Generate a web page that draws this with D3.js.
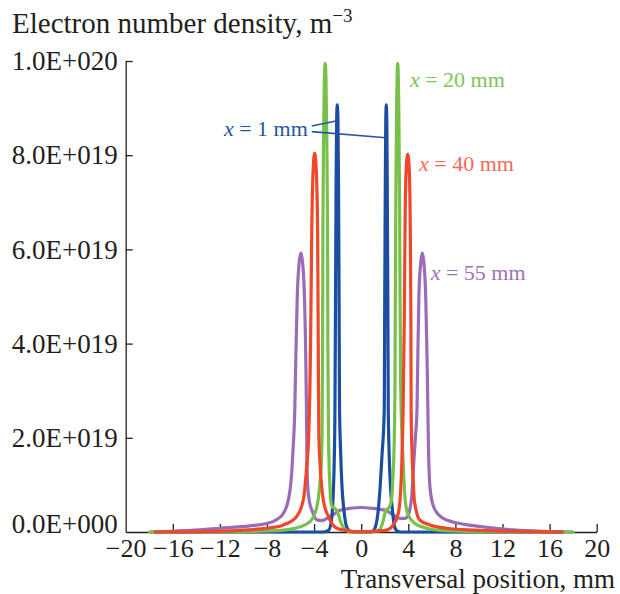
<!DOCTYPE html>
<html>
<head>
<meta charset="utf-8">
<script src="https://cdn.jsdelivr.net/npm/d3@7"></script>
<style>
  html, body { margin: 0; padding: 0; background: #fff; }
  svg { display: block; font-family: "Liberation Serif", "Times New Roman", serif; }
</style>
</head>
<body>
<svg id="chart" width="620" height="594"></svg>
<script>
// Transversal electron density profiles: [position (mm), density (1e19 m^-3)]
const profile1mm = [
  [-17.5, 0], [-3.2, 0], [-2.75, 0.04], [-2.5, 0.3], [-2.38, 0.8], [-2.3, 1.4], [-2.23, 2.6],
  [-2.18, 5.0], [-2.13, 7.5], [-2.08, 8.8], [-2.03, 9.07], [-1.98, 8.8], [-1.93, 7.5], [-1.88, 5.0],
  [-1.84, 2.6], [-1.76, 1.8], [-1.64, 1.0], [-1.46, 0.45], [-1.25, 0.12], [-1.0, 0.02], [-0.7, 0],
  [0.7, 0], [1.0, 0.02], [1.2, 0.1], [1.45, 0.47], [1.62, 1.0], [1.76, 1.6], [1.96, 2.6],
  [2.0, 5.0], [2.05, 7.5], [2.09, 8.8], [2.13, 9.07], [2.17, 8.8], [2.21, 7.5], [2.26, 5.0],
  [2.3, 2.6], [2.37, 1.7], [2.48, 1.0], [2.65, 0.47], [2.8, 0.15], [3.0, 0.03], [3.3, 0], [17, 0]
];
const profile20mm = [
  [-18, 0], [-10, 0.01], [-6.6, 0.04], [-5.2, 0.11], [-4.35, 0.22], [-3.92, 0.40], [-3.66, 0.68],
  [-3.48, 1.1], [-3.4, 1.39], [-3.32, 2.1], [-3.28, 4.0], [-3.25, 6.5], [-3.19, 8.5], [-3.13, 9.6],
  [-3.06, 9.95], [-2.99, 9.6], [-2.93, 8.5], [-2.86, 6.5], [-2.83, 4.0], [-2.78, 2.1], [-2.67, 1.03],
  [-2.55, 0.6], [-2.4, 0.52], [-2.23, 0.5], [-2.1, 0.46], [-1.95, 0.38], [-1.75, 0.22], [-1.52, 0.1],
  [-1.23, 0.03], [-0.9, 0], [0.9, 0], [1.3, 0.02], [1.6, 0.06], [1.85, 0.22], [2.02, 0.40],
  [2.15, 0.48], [2.3, 0.50], [2.45, 0.56], [2.59, 0.72], [2.7, 1.2], [2.8, 1.9], [2.87, 3.2],
  [2.9, 5.0], [2.94, 7.0], [3.0, 8.8], [3.1, 9.95], [3.2, 8.8], [3.26, 7.0], [3.3, 5.0],
  [3.35, 3.2], [3.47, 2.0], [3.58, 1.39], [3.72, 0.72], [3.85, 0.48], [4.0, 0.36], [4.57, 0.18],
  [5.56, 0.08], [6.97, 0.03], [10, 0.01], [18, 0]
];
const profile40mm = [
  [-17.5, 0], [-12, 0.02], [-8.03, 0.08], [-6.6, 0.15], [-5.48, 0.33], [-4.92, 0.68], [-4.63, 1.39],
  [-4.45, 2.1], [-4.3, 4.0], [-4.2, 6.4], [-4.08, 7.7], [-3.95, 8.04], [-3.82, 7.7], [-3.7, 6.4],
  [-3.65, 4.0], [-3.6, 2.1], [-3.48, 1.39], [-3.22, 0.68], [-2.79, 0.33], [-2.08, 0.08], [-1.23, 0.03],
  [-0.5, 0.01], [0.5, 0.01], [1.5, 0.02], [2.17, 0.04], [2.73, 0.15], [3.15, 0.40], [3.3, 0.68],
  [3.44, 1.39], [3.56, 2.6], [3.66, 4.5], [3.72, 6.4], [3.82, 7.7], [3.95, 8.02], [4.08, 7.7],
  [4.17, 6.4], [4.22, 4.5], [4.24, 2.6], [4.3, 1.8], [4.4, 1.2], [4.5, 0.7], [4.6, 0.54],
  [4.99, 0.25], [5.84, 0.15], [7.26, 0.08], [9.66, 0.04], [12, 0.02], [17.1, 0]
];
const profile55mm = [
  [-17.9, 0], [-15, 0.03], [-12, 0.08], [-9.45, 0.13], [-8.03, 0.18], [-7.2, 0.26], [-6.6, 0.40],
  [-6.19, 0.68], [-5.95, 1.1], [-5.8, 1.7], [-5.64, 2.6], [-5.56, 3.6], [-5.43, 5.0], [-5.28, 5.7],
  [-5.12, 5.92], [-4.97, 5.7], [-4.82, 5.0], [-4.7, 3.6], [-4.65, 2.6], [-4.61, 1.6], [-4.55, 1.0],
  [-4.4, 0.65], [-4.2, 0.47], [-3.78, 0.26], [-3.4, 0.24], [-2.9, 0.29], [-2.37, 0.37], [-1.8, 0.46],
  [-1.0, 0.5], [0, 0.52], [1.0, 0.5], [1.6, 0.48], [2.17, 0.45], [2.73, 0.36], [3.3, 0.29],
  [3.72, 0.29], [4.0, 0.36], [4.18, 0.55], [4.29, 0.75], [4.42, 1.3], [4.6, 2.0], [4.74, 2.6],
  [4.8, 3.6], [4.9, 5.0], [5.05, 5.7], [5.19, 5.92], [5.33, 5.7], [5.48, 5.0], [5.6, 3.6],
  [5.66, 2.6], [5.72, 1.7], [5.8, 1.1], [5.92, 0.78], [6.27, 0.47], [6.97, 0.29], [8.39, 0.18],
  [9.66, 0.13], [12.07, 0.06], [15, 0.02], [17.9, 0]
];

const seriesNames = ["1", "20", "40", "55"];
const xTicks = [-20, -16, -12, -8, -4, 0, 4, 8, 12, 16, 20];
const yTicks = [0, 2, 4, 6, 8, 10];
const yTickLabels = ["0.0E+000", "2.0E+019", "4.0E+019", "6.0E+019", "8.0E+019", "1.0E+020"];

const svg = d3.select("#chart");
const ink = "#231f20";
const serif = '"Liberation Serif", "Times New Roman", serif';

const x = d3.scaleLinear().domain([-20, 20]).range([125.7, 596.7]);
const y = d3.scaleLinear().domain([0, 10]).range([532, 61]);

// Axes with inward ticks
const xAxis = d3.axisBottom(x)
  .tickValues(xTicks)
  .tickSizeInner(-8).tickSizeOuter(0).tickPadding(7)
  .tickFormat(d3.format("d"));
const gx = svg.append("g").attr("transform", `translate(0,${y(0)})`).call(xAxis);
gx.selectAll("text").attr("font-size", 26).attr("fill", ink).attr("font-family", serif);
gx.selectAll("line, path").attr("stroke", ink).attr("stroke-width", 1.3);
gx.selectAll(".tick").filter(d => d === -20).select("line").remove();

const yAxis = d3.axisLeft(y)
  .tickValues(yTicks)
  .tickSizeInner(-7).tickSizeOuter(0).tickPadding(8)
  .tickFormat((d, i) => yTickLabels[i]);
const gy = svg.append("g").attr("transform", `translate(${x(-20)},0)`).call(yAxis);
gy.selectAll("text").attr("font-size", 27).attr("fill", ink).attr("font-family", serif);
gy.selectAll("line, path").attr("stroke", ink).attr("stroke-width", 1.3);
const zeroTick = gy.selectAll(".tick").filter(d => d === 0);
zeroTick.select("line").remove();
zeroTick.select("text").attr("dy", "0.0em");

// Axis titles
const title = svg.append("text").attr("x", 12).attr("y", 33)
  .attr("font-size", 29).attr("fill", ink)
  .text("Electron number density, m");
title.append("tspan").attr("dy", -11).attr("font-size", 19).text("\u22123");

svg.append("text").attr("x", 615).attr("y", 588)
  .attr("text-anchor", "end").attr("font-size", 27).attr("fill", ink)
  .text("Transversal position, mm");

// Profiles
const line = d3.line().x(d => x(d[0])).y(d => y(d[1])).curve(d3.curveMonotoneX);
const drawOrder = [
  { data: profile55mm, color: "#9a6cb7" },
  { data: profile1mm, color: "#1b4ea1" },
  { data: profile20mm, color: "#77c14b" },
  { data: profile40mm, color: "#f0472a" }
];
drawOrder.forEach(s => {
  svg.append("path").datum(s.data)
    .attr("d", line)
    .attr("fill", "none")
    .attr("stroke", s.color)
    .attr("stroke-width", 3.2)
    .attr("stroke-linejoin", "round")
    .attr("stroke-linecap", "round");
});

// Curve labels
function curveLabel(name, px, py, color, anchor) {
  const t = svg.append("text")
    .attr("x", x(px)).attr("y", y(py))
    .attr("font-size", 22).attr("fill", color)
    .attr("text-anchor", anchor || "start");
  t.append("tspan").attr("font-style", "italic").text("x");
  t.append("tspan").text(` = ${name} mm`);
}
curveLabel(seriesNames[1], 4.14, 9.45, "#7cc35a");
curveLabel(seriesNames[2], 4.91, 7.66, "#f26a55");
curveLabel(seriesNames[3], 5.9, 5.35, "#9d73b8");
curveLabel(seriesNames[0], -4.53, 8.41, "#2456a5", "end");

// Leader lines from the 1 mm label to both peaks
const leaderColor = "#2456a5";
[[[-4.2, 8.62], [-2.03, 8.73]], [[-4.2, 8.5], [2.12, 8.37]]].forEach(seg => {
  svg.append("line")
    .attr("x1", x(seg[0][0])).attr("y1", y(seg[0][1]))
    .attr("x2", x(seg[1][0])).attr("y2", y(seg[1][1]))
    .attr("stroke", leaderColor).attr("stroke-width", 1.6);
});
</script>
</body>
</html>
